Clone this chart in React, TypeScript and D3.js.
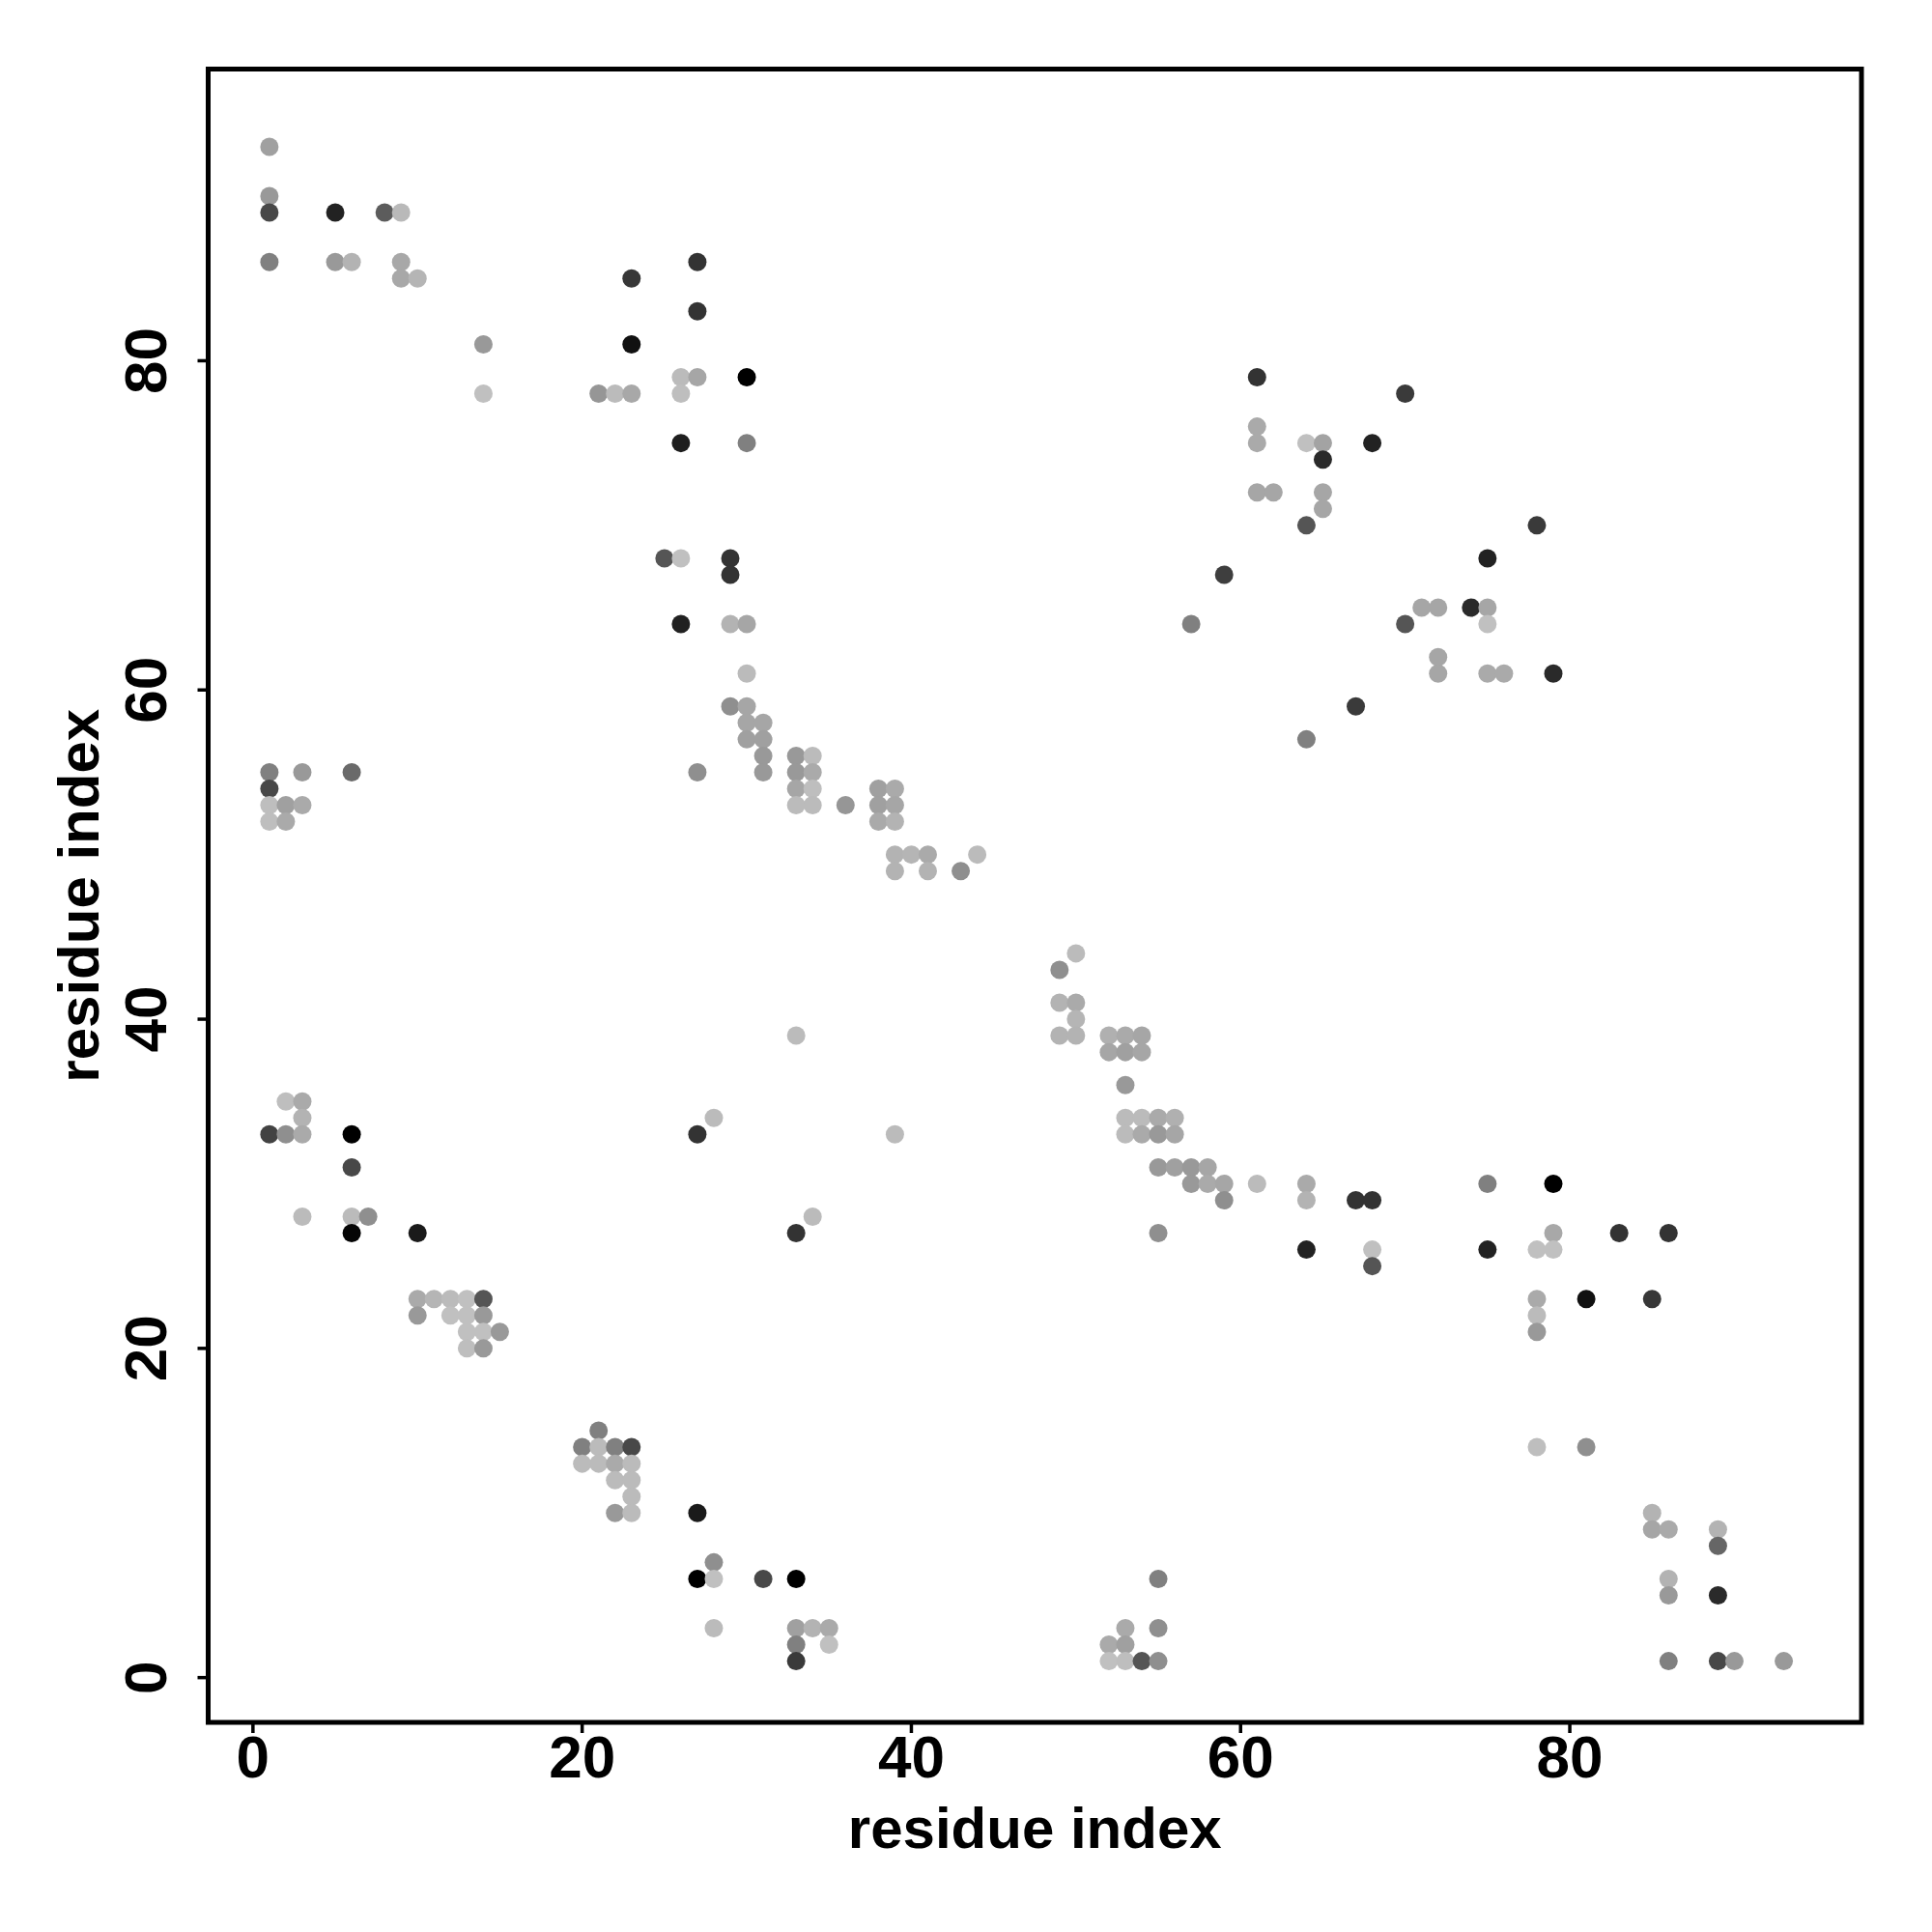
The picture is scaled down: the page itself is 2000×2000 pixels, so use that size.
import React from "react";
import { scaleLinear, rgb } from "d3";

// contact map: residue i (x), residue j (y), gray level (0 = black)
const resI = [
  1, 1, 1, 1, 5, 8, 9, 5, 6, 9, 9, 10, 14, 14, 23, 27, 27, 23, 21, 22, 23, 26, 27, 26, 30, 26, 30, 25, 26, 29,
  29, 26, 29, 30, 30, 29, 30, 30, 31, 30, 31, 31, 31, 27, 33, 34, 33, 34, 33, 34, 33, 34, 36, 38, 39, 38, 39, 38, 39, 39,
  40, 41, 39, 41, 43, 44,
  1, 3, 6, 1, 1, 2, 3, 1, 2,
  2, 3, 3, 1, 2, 3, 6, 6, 3, 6, 7, 6, 10, 10, 11, 12, 13, 14, 10, 12, 13, 14, 13, 14, 15, 13, 14,
  20, 21, 21, 22, 23, 20, 21, 22, 23, 22, 23, 23, 22, 23,
  27, 27, 28, 28, 28, 31, 33, 33, 34, 35, 33, 35, 33,
  27, 28, 33, 39, 33, 34,
  49, 50, 49, 50, 50, 49, 50, 52, 53, 54, 52, 53, 54, 53, 53, 54, 55, 56, 53, 54, 55, 56, 55, 56, 57, 58, 57, 58, 59, 59,
  55, 61, 64, 64, 64, 67, 68, 68, 68, 75, 75, 79, 79, 78, 79, 83, 86, 78, 78, 78, 81, 85, 78, 81, 85, 85, 86, 89, 89, 86,
  86, 89, 86, 89, 90, 93,
  55, 53, 55, 52, 53, 52, 53, 54, 55,
  61, 61, 61, 64, 65, 65, 61, 62, 65, 65, 64, 68, 70, 59, 57, 70, 71, 72, 74, 75, 75, 72, 72, 75, 76, 78, 79, 75, 67, 64,
];

const resJ = [
  93, 90, 89, 86, 89, 89, 89, 86, 86, 86, 85, 85, 81, 78, 85, 86, 83, 81, 78, 78, 78, 79, 79, 78, 79, 75, 75, 68, 68, 68,
  67, 64, 64, 64, 61, 59, 59, 58, 58, 57, 57, 56, 55, 55, 56, 56, 55, 55, 54, 54, 53, 53, 53, 54, 54, 53, 53, 52, 52, 50,
  50, 50, 49, 49, 49, 50,
  55, 55, 55, 54, 53, 53, 53, 52, 52,
  35, 35, 34, 33, 33, 33, 33, 31, 28, 28, 28, 27, 27, 23, 23, 23, 23, 23, 22, 22, 22, 22, 21, 21, 21, 20, 20,
  14, 15, 14, 14, 14, 13, 13, 13, 13, 12, 12, 11, 10, 10,
  10, 6, 7, 6, 3, 6, 6, 3, 3, 3, 2, 2, 1,
  33, 34, 39, 33, 27, 28,
  43, 44, 41, 41, 40, 39, 39, 39, 39, 39, 38, 38, 38, 36, 34, 34, 34, 34, 33, 33, 33, 33, 31, 31, 31, 31, 30, 30, 30, 29,
  27, 30, 30, 29, 26, 29, 29, 26, 25, 30, 26, 30, 27, 26, 26, 27, 27, 23, 22, 21, 23, 23, 14, 14, 10, 9, 9, 9, 8, 6,
  5, 5, 1, 1, 1, 1,
  6, 3, 3, 2, 2, 1, 1, 1, 1,
  79, 76, 75, 75, 75, 74, 72, 72, 72, 71, 70, 75, 78, 67, 64, 64, 65, 65, 65, 65, 64, 62, 61, 61, 61, 70, 61, 68, 59, 57,
];

const grayLevel = [
  160, 153, 72, 128, 34, 92, 185, 153, 179, 168, 168, 181, 153, 192, 55, 51, 51, 17, 150, 187, 168, 187, 166, 190, 0, 30, 128, 85, 192, 51,
  51, 33, 179, 166, 187, 143, 166, 166, 166, 160, 160, 153, 153, 143, 153, 187, 153, 170, 166, 190, 187, 187, 150, 160, 170, 160, 166, 170, 179, 179,
  181, 170, 179, 179, 143, 187,
  128, 153, 106, 72, 190, 160, 170, 190, 170,
  190, 170, 179, 66, 143, 170, 0, 72, 187, 187, 143, 5, 26, 170, 181, 187, 192, 85, 153, 192, 192, 153, 192, 192, 153, 190, 153,
  128, 128, 187, 128, 72, 187, 187, 170, 187, 187, 187, 187, 153, 187,
  26, 0, 143, 192, 187, 72, 0, 160, 179, 170, 128, 192, 58,
  51, 187, 187, 187, 51, 187,
  143, 187, 179, 170, 181, 179, 179, 176, 170, 166, 166, 160, 166, 153, 187, 187, 170, 176, 187, 170, 153, 166, 153, 160, 153, 166, 153, 170, 166, 143,
  143, 187, 170, 179, 34, 51, 51, 192, 85, 128, 34, 0, 168, 192, 192, 51, 51, 170, 187, 153, 17, 55, 190, 143, 179, 166, 170, 179, 102, 179,
  153, 42, 128, 72, 153, 153,
  128, 170, 143, 170, 160, 192, 190, 85, 143,
  51, 170, 170, 192, 163, 42, 166, 166, 166, 166, 85, 34, 58, 62, 128, 85, 166, 166, 42, 166, 192, 166, 166, 170, 170, 58, 42, 34, 58, 128,
];

const xTicks = [0, 20, 40, 60, 80];
const yTicks = [0, 20, 40, 60, 80];
const axisTitle = "residue index";

const W = 2000;
const H = 2000;
const plot = { left: 215.5, right: 1927, top: 71.5, bottom: 1783 };
const font = "'Liberation Sans', Arial, Helvetica, sans-serif";

export default function App() {
  // R-style 4% expansion of the 1..94 residue range
  const lo = 1;
  const hi = 94;
  const pad = (hi - lo) * 0.04;

  const x = scaleLinear().domain([lo - pad, hi + pad]).range([plot.left, plot.right]);
  const y = scaleLinear().domain([lo - pad, hi + pad]).range([plot.bottom, plot.top]);

  const points = resI.map((i, k) => ({ i, j: resJ[k], g: grayLevel[k] }));

  return (
    <svg
      width={W}
      height={H}
      viewBox={`0 0 ${W} ${H}`}
      style={{ position: "absolute", left: 0, top: 0, background: "#fff" }}
    >
      <rect width={W} height={H} fill="#fff" />

      {/* points */}
      {points.map((p, k) => (
        <circle
          key={k}
          cx={x(p.i)}
          cy={y(p.j)}
          r={9.5}
          fill={rgb(p.g, p.g, p.g).formatHex()}
        />
      ))}

      {/* frame */}
      <rect
        x={plot.left}
        y={plot.top}
        width={plot.right - plot.left}
        height={plot.bottom - plot.top}
        fill="none"
        stroke="#000"
        strokeWidth={5}
      />

      {/* x axis */}
      {xTicks.map((t) => (
        <g key={t}>
          <line x1={x(t)} x2={x(t)} y1={plot.bottom} y2={plot.bottom + 11} stroke="#000" strokeWidth={3.5} />
          <text
            x={x(t)}
            y={1840}
            textAnchor="middle"
            fontFamily={font}
            fontWeight="bold"
            fontSize={62}
          >
            {t}
          </text>
        </g>
      ))}
      <text
        x={(plot.left + plot.right) / 2}
        y={1913}
        textAnchor="middle"
        fontFamily={font}
        fontWeight="bold"
        fontSize={60}
      >
        {axisTitle}
      </text>

      {/* y axis */}
      {yTicks.map((t) => (
        <g key={t}>
          <line x1={plot.left - 11} x2={plot.left} y1={y(t)} y2={y(t)} stroke="#000" strokeWidth={3.5} />
          <text
            x={172}
            y={y(t)}
            transform={`rotate(-90, 172, ${y(t)})`}
            textAnchor="middle"
            fontFamily={font}
            fontWeight="bold"
            fontSize={62}
          >
            {t}
          </text>
        </g>
      ))}
      <text
        x={102}
        y={(plot.top + plot.bottom) / 2}
        transform={`rotate(-90, 102, ${(plot.top + plot.bottom) / 2})`}
        textAnchor="middle"
        fontFamily={font}
        fontWeight="bold"
        fontSize={60}
      >
        {axisTitle}
      </text>
    </svg>
  );
}
